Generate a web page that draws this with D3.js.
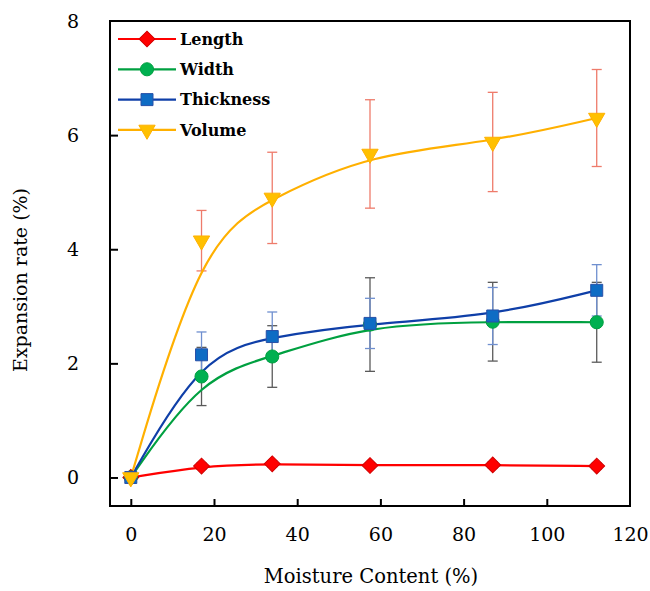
<!DOCTYPE html>
<html><head><meta charset="utf-8">
<script src="https://cdn.jsdelivr.net/npm/d3@7"></script>
<style>body{margin:0;background:#fff}svg{display:block}</style>
</head><body>
<svg id="c" width="650" height="591"></svg>
<script>
const moisture = [0, 17, 34, 57.5, 87, 112];
const lengthVals = [0, 0.2, 0.24, 0.21, 0.22, 0.2];
const lengthErr = [0, 0.05, 0.05, 0.05, 0.05, 0.05];
const widthVals = [0, 1.77, 2.12, 2.68, 2.73, 2.72];
const widthErr = [0, 0.51, 0.54, 0.82, 0.69, 0.7];
const thickVals = [0, 2.15, 2.47, 2.7, 2.83, 3.28];
const thickErr = [0, 0.4, 0.43, 0.44, 0.5, 0.45];
const volVals = [0, 4.15, 4.9, 5.67, 5.88, 6.3];
const volErr = [0, 0.53, 0.8, 0.95, 0.87, 0.85];
const seriesNames = ["Length", "Width", "Thickness", "Volume"];
const xTicks = [0, 20, 40, 60, 80, 100, 120];
const yTicks = [0, 2, 4, 6, 8];

const font = "'DejaVu Serif', 'Liberation Serif', serif";
const svg = d3.select("#c");
const L = 110, R = 630, T = 21, B = 506;
const x = d3.scaleLinear().domain([-5, 120]).range([L, R]);
const y = d3.scaleLinear().domain([-0.5, 8]).range([B, T]);

const series = [
  {name: seriesNames[0], vals: lengthVals, err: lengthErr, line: "#ff0000", fill: "#ff0000", stroke: "#d00000", errc: "#333333", sym: "diamond"},
  {name: seriesNames[1], vals: widthVals, err: widthErr, line: "#00a040", fill: "#00b050", stroke: "#00a040", errc: "#5a5a5a", sym: "circle"},
  {name: seriesNames[2], vals: thickVals, err: thickErr, line: "#0f3fa8", fill: "#0e6cc4", stroke: "#2850a8", errc: "#6f8fcf", sym: "square"},
  {name: seriesNames[3], vals: volVals, err: volErr, line: "#ffb000", fill: "#ffc000", stroke: "#ffb000", errc: "#ee7b6b", sym: "triangle"}
];

function symPath(sym) {
  if (sym === "diamond") return {d: d3.symbol(d3.symbolSquare, 125)(), rot: 45};
  if (sym === "circle") return {d: d3.symbol(d3.symbolCircle, 135)(), rot: 0};
  if (sym === "square") return {d: d3.symbol(d3.symbolSquare, 144)(), rot: 0};
  return {d: d3.symbol(d3.symbolTriangle, 115)(), rot: 180};
}

// axes
const yAxis = d3.axisLeft(y).tickValues(yTicks).tickSize(-8).tickPadding(31).tickFormat(d3.format("d"));
const xAxis = d3.axisBottom(x).tickValues(xTicks).tickSize(-7).tickPadding(22).tickFormat(d3.format("d"));
const gy = svg.append("g").attr("transform", `translate(${L},0)`).call(yAxis);
const gx = svg.append("g").attr("transform", `translate(0,${B})`).call(xAxis);
[gx, gy].forEach(g => {
  g.select(".domain").remove();
  g.selectAll(".tick line").attr("stroke", "#000").attr("stroke-width", 2);
  g.selectAll(".tick text").attr("font-family", font).attr("font-size", 19).attr("fill", "#000");
});
gx.selectAll(".tick").filter(d => d === 120).select("line").remove();
gy.selectAll(".tick").filter(d => d === 8).select("line").remove();

svg.append("rect").attr("x", L).attr("y", T).attr("width", R - L).attr("height", B - T)
  .attr("fill", "none").attr("stroke", "#000").attr("stroke-width", 2);

// error bars
series.forEach(s => {
  const g = svg.append("g").attr("stroke", s.errc).attr("stroke-width", 1.3).attr("fill", "none");
  moisture.forEach((m, i) => {
    if (s.err[i] <= 0) return;
    const cx = x(m), y1 = y(s.vals[i] + s.err[i]), y2 = y(s.vals[i] - s.err[i]);
    g.append("line").attr("x1", cx).attr("x2", cx).attr("y1", y1).attr("y2", y2);
    g.append("line").attr("x1", cx - 5).attr("x2", cx + 5).attr("y1", y1).attr("y2", y1);
    g.append("line").attr("x1", cx - 5).attr("x2", cx + 5).attr("y1", y2).attr("y2", y2);
  });
});

// curves
const lineGen = d3.line().x(d => x(d[0])).y(d => y(d[1])).curve(d3.curveBasis);
series.forEach(s => {
  svg.append("path").attr("d", lineGen(moisture.map((m, i) => [m, s.vals[i]])))
    .attr("fill", "none").attr("stroke", s.line).attr("stroke-width", 2.2);
});

// markers
series.forEach(s => {
  const p = symPath(s.sym);
  moisture.forEach((m, i) => {
    svg.append("path").attr("d", p.d)
      .attr("transform", `translate(${x(m)},${y(s.vals[i])}) rotate(${p.rot})`)
      .attr("fill", s.fill).attr("stroke", s.stroke).attr("stroke-width", 1);
  });
});

// legend
series.forEach((s, i) => {
  const ly = 39 + i * 30.3;
  svg.append("line").attr("x1", 118).attr("x2", 176).attr("y1", ly).attr("y2", ly)
    .attr("stroke", s.line).attr("stroke-width", 2.2);
  const p = symPath(s.sym);
  svg.append("path").attr("d", p.d).attr("transform", `translate(147,${ly}) rotate(${p.rot})`)
    .attr("fill", s.fill).attr("stroke", s.stroke).attr("stroke-width", 1);
  svg.append("text").attr("x", 180).attr("y", ly).attr("dy", "0.35em")
    .attr("font-family", font).attr("font-weight", "bold").attr("font-size", 16)
    .text(s.name);
});

// titles
svg.append("text").attr("x", 371).attr("y", 583)
  .attr("text-anchor", "middle").attr("font-family", font).attr("font-size", 19.5)
  .text("Moisture Content (%)");
svg.append("text").attr("transform", "translate(27,280) rotate(-90)")
  .attr("text-anchor", "middle").attr("font-family", font).attr("font-size", 19)
  .text("Expansion rate (%)");
</script>
</body></html>
